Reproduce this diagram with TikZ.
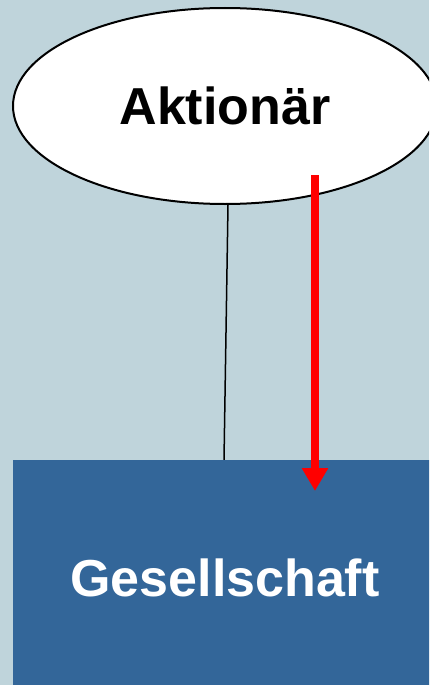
\documentclass[tikz,border=0pt]{standalone}
\usepackage{fontspec}
\setmainfont{Liberation Sans}
\usetikzlibrary{shapes.geometric,arrows.meta}
\definecolor{hintergrund}{RGB}{191,212,219}
\definecolor{firmablau}{RGB}{51,102,153}
\begin{document}
\begin{tikzpicture}[x=1pt,y=-1pt,
      font=\fontsize{52}{62}\selectfont\bfseries,
      person/.style={draw, ellipse, fill=white, line width=2pt, minimum width=424pt, minimum height=196pt, inner sep=0pt},
      firma/.style={fill=firmablau, text=white, minimum width=424pt, minimum height=236pt, inner sep=0pt},
      fluss/.style={red, line width=8pt, -{Triangle[length=23pt,width=25pt]}}]
    \clip (0,0) rectangle (429,685);
    \fill[hintergrund] (0,0) rectangle (429,685);
    \node[person] (aktionaer) at (225,106) {Aktionär};
    \node[firma] (gesellschaft) at (225,578) {Gesellschaft};
    \coordinate (oben) at (315,175);
    \coordinate (unten) at (315,491);
    \draw[line width=1.5pt] ([xshift=3pt]aktionaer.south) -- ([xshift=-1pt]gesellschaft.north);
    \draw[fluss] (oben) -- (unten);
  \end{tikzpicture}
\end{document}
